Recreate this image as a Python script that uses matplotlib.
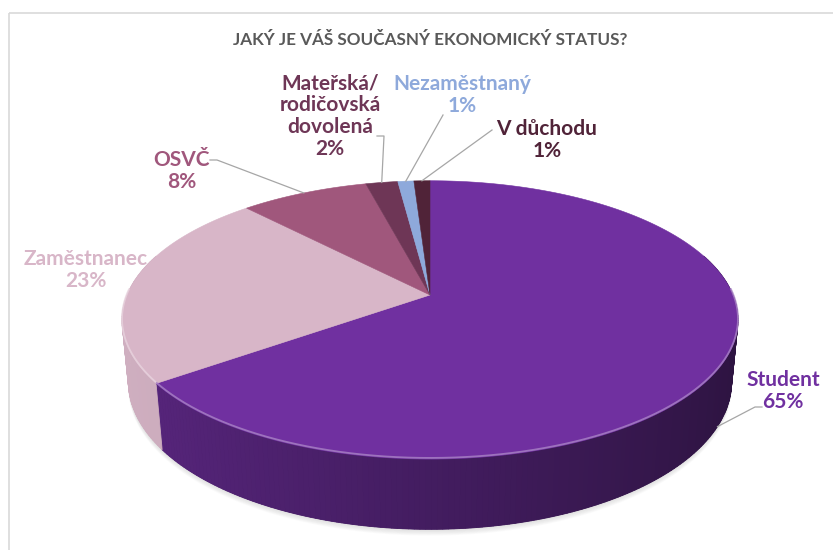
import numpy as np
import matplotlib.pyplot as plt
from matplotlib.colors import to_rgb
from matplotlib.patches import Polygon, Rectangle

# Survey answers: current economic status
categories = ["Student", "Zaměstnanec", "OSVČ", "Mateřská/\nrodičovská\ndovolená",
              "Nezaměstnaný", "V důchodu"]
shares = [65, 23, 8, 2, 1, 1]
colors = ["#7030A0", "#D8B6C8", "#A0577C", "#6E3656", "#8EA9DB", "#502338"]
title = "JAKÝ JE VÁŠ SOUČASNÝ EKONOMICKÝ STATUS?"

# label placement (pixel space) and where the leader line leaves the label
label_pos = [(783, 391), (86, 270), (182, 171), (330, 116), (462, 95), (547, 140)]
leader_start = [[(762, 407), (755, 407)], None, [(210, 160), (217, 160)],
                [(377, 136), (384, 136)], [(443, 115)], [(492, 130)]]

# simple perspective camera for the 3-D pie
cx, cy = 430, 295
f, D = 1515.0, 5.0
alpha = np.radians(26.4)
sa, ca = np.sin(alpha), np.cos(alpha)
h = 0.23


def proj(X, Y, Z):
    # X to the right, Y towards the viewer, Z up
    yc = -Y * sa + Z * ca
    depth = D - (Y * ca + Z * sa)
    return cx + f * X / depth, cy - f * yc / depth


def angle_of(frac):
    # clockwise from 12 o'clock
    return np.radians(90 - 360 * frac)


def wall_shade(base, x):
    # darker towards the right-hand side
    if base.mean() > 0.7:
        return np.clip(base * (0.90 - 0.06 * x), 0, 1)
    return np.clip(base * (0.60 - 0.20 * x), 0, 1)


fig = plt.figure(figsize=(8.33, 5.5), dpi=100)
ax = fig.add_axes([0, 0, 1, 1])
ax.set_xlim(0, 833)
ax.set_ylim(550, 0)
ax.axis("off")

# chart frame
ax.add_patch(Rectangle((9, 13), 840, 560, fill=False, ec="#D9D9D9", lw=1.2))

fracs = np.array(shares) / sum(shares)
bounds = np.concatenate([[0], np.cumsum(fracs)])

# soft shadow under the pie
t = np.linspace(0, 2 * np.pi, 300)
bx, by = proj(np.cos(t), np.sin(t), -h)
for k in range(1, 8):
    ax.add_patch(Polygon(np.column_stack([bx, by + k * 0.9]), closed=True,
                         fc="#808080", ec="none", alpha=0.035, zorder=1))

# outer walls: one flat backing polygon, then thin shaded strips on top
for i in range(len(shares)):
    n = max(3, int(fracs[i] * 400))
    th = angle_of(np.linspace(bounds[i], bounds[i + 1], n))
    X, Y = np.cos(th), -np.sin(th)
    base = np.array(to_rgb(colors[i]))
    keep = Y > -0.3
    if keep.sum() < 2:
        continue
    tx, ty = proj(X[keep], Y[keep], 0)
    lx, ly = proj(X[keep], Y[keep], -h)
    back = np.column_stack([np.concatenate([tx, lx[::-1]]), np.concatenate([ty, ly[::-1]])])
    ax.add_patch(Polygon(back, closed=True, fc=wall_shade(base, X[keep].mean()),
                         ec="none", zorder=2))
    for j in range(len(th) - 1):
        if not (keep[j] or keep[j + 1]):
            continue
        x0, y0 = proj(X[j], Y[j], 0)
        x1, y1 = proj(X[j + 1], Y[j + 1], 0)
        x2, y2 = proj(X[j + 1], Y[j + 1], -h)
        x3, y3 = proj(X[j], Y[j], -h)
        c = wall_shade(base, (X[j] + X[j + 1]) / 2)
        ax.add_patch(Polygon([(x0, y0), (x1, y1), (x2, y2), (x3, y3)], closed=True,
                             fc=c, ec=c, lw=0.6, zorder=2.1))

# top faces
for i in range(len(shares)):
    th = angle_of(np.linspace(bounds[i], bounds[i + 1], max(3, int(fracs[i] * 400))))
    px, py = proj(np.cos(th), -np.sin(th), 0)
    pts = [(cx, cy)] + list(zip(px, py))
    ax.add_patch(Polygon(pts, closed=True, fc=colors[i], ec=colors[i], lw=0.4, zorder=3))
    # bevel highlight along the front rim
    Y = -np.sin(th)
    m = Y > -0.05
    if m.sum() > 1:
        hl = np.clip(np.array(to_rgb(colors[i])) * 0.6 + 0.4, 0, 1)
        ax.plot(px[m], py[m] - 1.2, color=hl, lw=1.3, alpha=0.8, zorder=4,
                solid_capstyle="butt")

# labels and leader lines
for i, name in enumerate(categories):
    lx, ly = label_pos[i]
    ax.text(lx, ly, f"{name}\n{shares[i]}%", ha="center", va="center",
            color=colors[i], fontsize=15, fontweight="bold", family="Lato",
            linespacing=1.12, zorder=6)
    if leader_start[i] is None:
        continue
    th = angle_of((bounds[i] + bounds[i + 1]) / 2)
    z = -h if i == 0 else 0
    ex, ey = proj(np.cos(th), -np.sin(th), z)
    pts = leader_start[i] + [(ex, ey)]
    ax.plot([p[0] for p in pts], [p[1] for p in pts], color="#A6A6A6", lw=0.9, zorder=5)

ax.text(430, 40, title, ha="center", va="center", color="#595959",
        fontsize=12.3, fontweight="bold", family="Lato")

fig.savefig("out.png", dpi=100)
